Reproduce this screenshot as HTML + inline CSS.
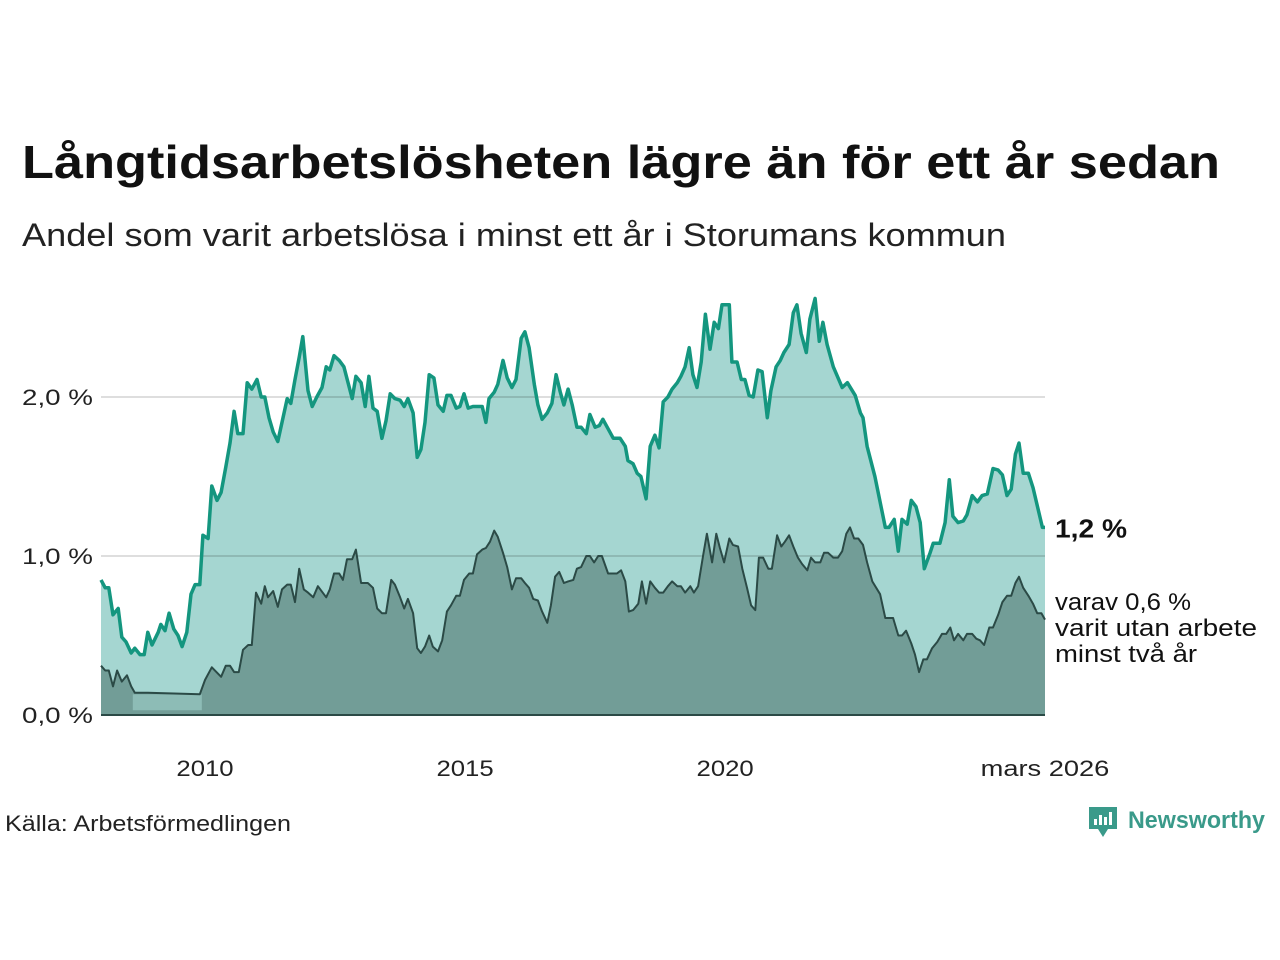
<!DOCTYPE html>
<html><head><meta charset="utf-8"><style>
html,body{margin:0;padding:0;background:#fff;}
svg{display:block;font-family:"Liberation Sans",sans-serif;}
</style></head><body>
<svg id="chart" width="1280" height="960" viewBox="0 0 1280 960" xmlns="http://www.w3.org/2000/svg">
<defs><clipPath id="areaClip"><polygon id="clipPoly" points="0,0"/></clipPath></defs>
<text x="22" y="178" font-size="46" font-weight="bold" fill="#111" textLength="1198" lengthAdjust="spacingAndGlyphs">Långtidsarbetslösheten lägre än för ett år sedan</text>
<text x="22" y="246" font-size="32" fill="#222" textLength="984" lengthAdjust="spacingAndGlyphs">Andel som varit arbetslösa i minst ett år i Storumans kommun</text>
<g id="plot"></g>
<text x="5" y="831" font-size="22" fill="#222" textLength="286" lengthAdjust="spacingAndGlyphs">Källa: Arbetsförmedlingen</text>
<g>
<path d="M1089 807 h28 v22 h-9 l-5 8 l-5 -8 h-9 z" fill="#3a9a8a"/>
<rect x="1094" y="819" width="3" height="6" fill="#fff"/><rect x="1099" y="815" width="3" height="10" fill="#fff"/><rect x="1104" y="817" width="3" height="8" fill="#fff"/><rect x="1109" y="812" width="3" height="13" fill="#fff"/>
<text x="1128" y="828" font-size="24" font-weight="bold" fill="#3a9a8a" textLength="137" lengthAdjust="spacingAndGlyphs">Newsworthy</text>
</g>
</svg>
<script>
// years since Jan 2008, share in %
const totalT = [0.00,0.08,0.15,0.23,0.33,0.40,0.48,0.58,0.65,0.75,0.83,0.90,0.98,1.10,1.15,1.23,1.31,1.40,1.48,1.56,1.65,1.73,1.81,1.90,1.96,2.06,2.13,2.23,2.31,2.40,2.48,2.56,2.63,2.73,2.81,2.90,3.00,3.08,3.15,3.23,3.31,3.40,3.48,3.58,3.65,3.73,3.81,3.88,3.98,4.06,4.15,4.25,4.33,4.40,4.48,4.58,4.67,4.83,4.90,5.00,5.08,5.15,5.23,5.31,5.40,5.48,5.56,5.65,5.75,5.83,5.90,6.00,6.08,6.15,6.23,6.31,6.40,6.48,6.58,6.65,6.73,6.83,6.90,6.98,7.06,7.15,7.23,7.33,7.40,7.46,7.56,7.63,7.73,7.81,7.90,7.98,8.08,8.15,8.23,8.33,8.40,8.48,8.58,8.67,8.75,8.83,8.90,8.98,9.06,9.15,9.23,9.33,9.40,9.50,9.58,9.65,9.75,9.85,9.98,10.08,10.13,10.23,10.31,10.38,10.48,10.56,10.65,10.73,10.81,10.90,10.98,11.08,11.15,11.23,11.31,11.38,11.46,11.54,11.62,11.71,11.79,11.87,11.94,12.08,12.13,12.23,12.31,12.38,12.46,12.54,12.63,12.71,12.81,12.88,12.98,13.06,13.13,13.23,13.31,13.38,13.46,13.56,13.63,13.73,13.81,13.88,13.96,14.08,14.25,14.35,14.50,14.60,14.65,14.73,14.88,15.08,15.15,15.25,15.33,15.40,15.50,15.58,15.67,15.75,15.83,15.94,16.00,16.13,16.23,16.31,16.38,16.48,16.58,16.65,16.75,16.85,16.94,17.04,17.15,17.25,17.33,17.42,17.50,17.58,17.65,17.73,17.83,17.92,18.10,18.15];
const totalV = [.85,.80,.80,.63,.67,.49,.46,.39,.42,.38,.38,.52,.44,.52,.57,.53,.64,.54,.50,.43,.52,.76,.82,.82,1.13,1.11,1.44,1.35,1.40,1.56,1.71,1.91,1.77,1.77,2.09,2.05,2.11,2.00,2.00,1.87,1.78,1.72,1.84,1.99,1.96,2.11,2.25,2.38,2.04,1.94,2.00,2.06,2.19,2.17,2.26,2.23,2.19,1.99,2.13,2.09,1.94,2.13,1.93,1.91,1.74,1.85,2.02,1.99,1.98,1.94,1.99,1.90,1.62,1.67,1.84,2.14,2.12,1.95,1.91,2.01,2.01,1.93,1.94,2.02,1.93,1.94,1.94,1.94,1.84,1.99,2.03,2.08,2.23,2.12,2.06,2.11,2.37,2.41,2.31,2.08,1.95,1.86,1.90,1.96,2.14,2.03,1.95,2.05,1.95,1.81,1.81,1.77,1.89,1.81,1.82,1.86,1.80,1.74,1.74,1.69,1.60,1.58,1.52,1.50,1.36,1.69,1.76,1.68,1.97,2.00,2.05,2.09,2.13,2.19,2.31,2.14,2.06,2.22,2.52,2.30,2.47,2.43,2.58,2.58,2.22,2.22,2.11,2.11,2.01,2.00,2.17,2.16,1.87,2.04,2.19,2.23,2.28,2.33,2.53,2.58,2.40,2.28,2.49,2.62,2.35,2.47,2.33,2.19,2.06,2.09,2.01,1.90,1.87,1.69,1.50,1.18,1.18,1.23,1.03,1.23,1.20,1.35,1.31,1.21,0.92,1.02,1.08,1.08,1.21,1.48,1.25,1.21,1.22,1.26,1.38,1.34,1.38,1.39,1.55,1.54,1.51,1.38,1.42,1.64,1.71,1.52,1.52,1.43,1.18,1.18];
const longT = [0.00,0.08,0.15,0.23,0.31,0.40,0.50,0.58,0.65,0.90,1.90,2.00,2.13,2.31,2.40,2.48,2.56,2.65,2.73,2.83,2.90,2.98,3.08,3.15,3.21,3.31,3.40,3.48,3.58,3.65,3.73,3.81,3.90,3.98,4.08,4.17,4.33,4.40,4.48,4.58,4.65,4.73,4.83,4.90,5.00,5.13,5.23,5.31,5.40,5.48,5.58,5.65,5.75,5.83,5.90,6.00,6.08,6.15,6.23,6.31,6.38,6.48,6.56,6.65,6.73,6.83,6.90,6.98,7.08,7.15,7.23,7.33,7.40,7.48,7.56,7.63,7.73,7.81,7.90,7.98,8.08,8.15,8.23,8.31,8.40,8.48,8.58,8.65,8.73,8.81,8.90,8.98,9.08,9.15,9.23,9.33,9.40,9.48,9.56,9.63,9.75,9.92,10.00,10.08,10.15,10.23,10.33,10.40,10.48,10.56,10.65,10.73,10.81,10.90,10.98,11.08,11.15,11.23,11.33,11.40,11.48,11.58,11.65,11.75,11.83,11.90,11.98,12.08,12.15,12.25,12.33,12.42,12.50,12.58,12.65,12.73,12.83,12.90,13.00,13.08,13.15,13.23,13.31,13.40,13.48,13.58,13.65,13.73,13.83,13.90,13.98,14.08,14.17,14.25,14.33,14.40,14.48,14.56,14.65,14.73,14.83,14.98,15.08,15.23,15.33,15.40,15.48,15.58,15.65,15.73,15.81,15.88,15.98,16.08,16.17,16.25,16.33,16.40,16.48,16.58,16.65,16.75,16.83,16.90,16.98,17.08,17.15,17.25,17.33,17.42,17.50,17.58,17.65,17.73,17.83,17.92,18.00,18.08,18.15];
const longV = [.31,.28,.28,.18,.28,.21,.25,.18,.14,.14,.13,.22,.30,.24,.31,.31,.27,.27,.41,.44,.44,.77,.70,.81,.74,.78,.68,.79,.82,.82,.71,.92,.79,.77,.74,.81,.74,.79,.89,.89,.85,.98,.98,1.04,.83,.83,.80,.67,.64,.64,.85,.82,.74,.67,.73,.64,.42,.39,.43,.50,.43,.40,.47,.65,.69,.75,.75,.85,.89,.89,1.01,1.04,1.05,1.09,1.16,1.12,1.02,.93,.79,.86,.86,.83,.80,.73,.72,.65,.58,.69,.87,.90,.83,.84,.85,.92,.93,1.00,1.00,.96,1.00,1.00,.89,.89,.91,.84,.65,.66,.70,.84,.70,.84,.80,.77,.77,.81,.84,.81,.81,.77,.81,.77,.81,1.01,1.14,.96,1.14,1.05,.96,1.11,1.07,1.06,.92,.80,.69,.66,.99,.99,.92,.92,1.13,1.06,1.09,1.13,1.06,.99,.95,.91,.99,.96,.96,1.02,1.02,.99,.99,1.03,1.14,1.18,1.11,1.11,1.07,.96,.84,.76,.61,.61,.50,.50,.53,.45,.38,.27,.35,.35,.42,.46,.51,.51,.55,.47,.51,.47,.51,.51,.48,.47,.44,.55,.55,.63,.71,.75,.75,.83,.87,.80,.75,.70,.64,.64,.60];
const yTicks = [0, 1, 2];
const yTickLabels = ["0,0 %", "1,0 %", "2,0 %"];
const xTicks = [2, 7, 12, 18.15];
const xTickLabels = ["2010", "2015", "2020", "mars 2026"];
const lastTotalLabel = "1,2 %";
const lastLongLabels = ["varav 0,6 %", "varit utan arbete", "minst två år"];

const NS = "http://www.w3.org/2000/svg";
const X0 = 101, X1 = 1045, Y0 = 715, YPER = 159, TMAX = 18.15;
const xs = t => X0 + (t / TMAX) * (X1 - X0);
const ys = v => Y0 - v * YPER;
const plot = document.getElementById("plot");
function mk(tag, attrs){ const e = document.createElementNS(NS, tag); for (const k in attrs) e.setAttribute(k, attrs[k]); plot.appendChild(e); return e; }

// gridlines
yTicks.forEach((v, i) => {
  if (v > 0) {
    const g = mk("line", {x1: X0, x2: X1, y1: ys(v), y2: ys(v), stroke: "#dedede", "stroke-width": 2});
    
    
  }
  const t = mk("text", {x: 93, y: ys(v) + 8, "font-size": 22, fill: "#222", "text-anchor": "end", textLength: 71, lengthAdjust: "spacingAndGlyphs"});
  t.textContent = yTickLabels[i];
  
  
});

function linePts(T, V){ return T.map((t, i) => xs(t).toFixed(1) + "," + ys(V[i]).toFixed(1)); }
const tp = linePts(totalT, totalV), lp = linePts(longT, longV);
const areaPts = xs(totalT[0]) + "," + Y0 + " " + tp.join(" ") + " " + xs(totalT[totalT.length-1]) + "," + Y0;
document.getElementById("clipPoly").setAttribute("points", areaPts);

const ta = mk("polygon", {points: areaPts, fill: "#a5d6d1"});



yTicks.filter(v => v > 0).forEach(v => {
  const g = mk("line", {x1: X0, x2: X1, y1: ys(v), y2: ys(v), stroke: "#8fb9b4", "stroke-width": 2, "clip-path": "url(#areaClip)"});
  
  
});

const la = mk("polygon", {points: xs(longT[0]) + "," + Y0 + " " + lp.join(" ") + " " + xs(longT[longT.length-1]) + "," + Y0, fill: "#729d97"});



const band = mk("rect", {x: xs(0.65) - 2, y: ys(0.13), width: xs(1.9) - xs(0.65) + 4, height: ys(0.03) - ys(0.13), fill: "#8dbcb6"});



const tl = mk("polyline", {points: tp.join(" "), fill: "none", stroke: "#14967f", "stroke-width": 3.5, "stroke-linejoin": "round"});


const ll = mk("polyline", {points: lp.join(" "), fill: "none", stroke: "#2b4a46", "stroke-width": 2, "stroke-linejoin": "round"});



const base = mk("line", {x1: X0, x2: X1, y1: Y0, y2: Y0, stroke: "#2b4a46", "stroke-width": 2});



xTicks.forEach((t, i) => {
  const e = mk("text", {x: xs(t), y: 776, "font-size": 22, fill: "#222", "text-anchor": "middle", textLength: xTickLabels[i].length * 14.3, lengthAdjust: "spacingAndGlyphs"});
  e.textContent = xTickLabels[i];
  
  
});

const endT = mk("text", {x: 1055, y: ys(totalV[totalV.length-1]) + 10, "font-size": 26, "font-weight": "bold", fill: "#111", textLength: 72, lengthAdjust: "spacingAndGlyphs"});
endT.textContent = lastTotalLabel;


const longW = [136, 202, 142];
lastLongLabels.forEach((s, i) => {
  const e = mk("text", {x: 1055, y: 610 + i * 26, "font-size": 24, fill: "#111", textLength: longW[i], lengthAdjust: "spacingAndGlyphs"});
  e.textContent = s;
  
  
});
</script>
</body></html>
